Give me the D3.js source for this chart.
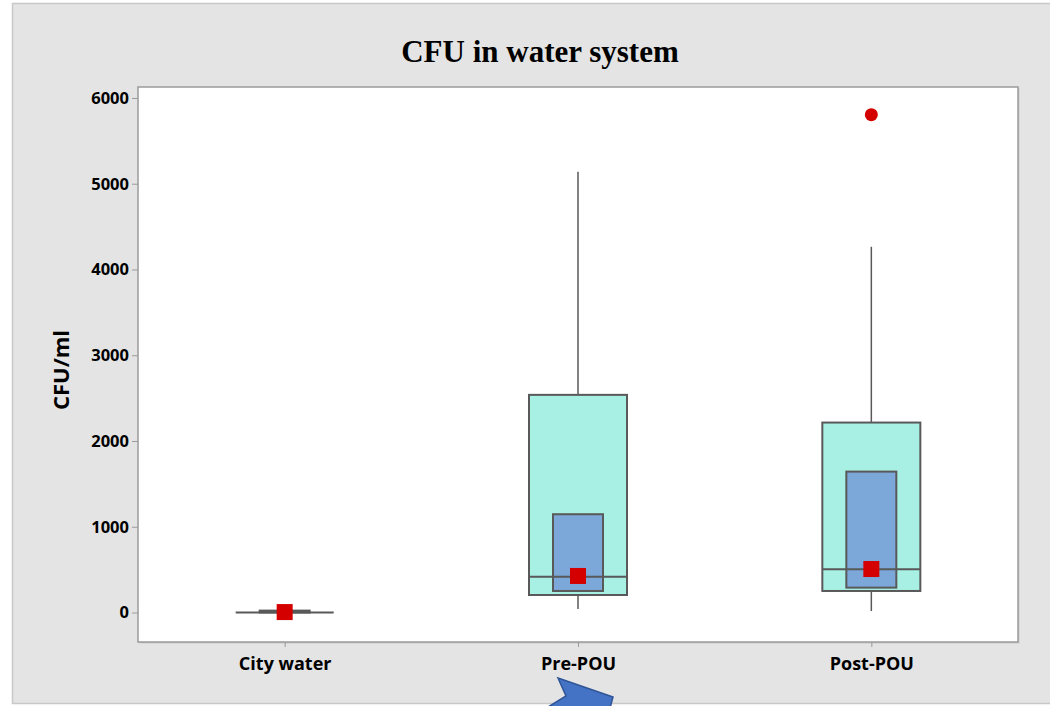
<!DOCTYPE html>
<html>
<head>
<meta charset="utf-8">
<script src="https://cdn.jsdelivr.net/npm/d3@7"></script>
<style>
  html, body { margin: 0; padding: 0; background: #ffffff; }
  svg { display: block; }
</style>
</head>
<body>
<svg id="chart" width="1050" height="706"></svg>
<script>
// ---- Data ----
const categories = ["City water", "Pre-POU", "Post-POU"];
const q1Values = [0, 204, 251];
const medianValues = [0, 418, 504];
const q3Values = [0, 2538, 2215];
const whiskerLow = [0, 40, 17];
const whiskerHigh = [0, 5140, 4265];
const ciLow = [0, 251, 290];
const ciHigh = [22, 1146, 1643];
const meanValues = [5, 426, 507];
const outlierValues = [[], [], [5805]];
const yTicks = [0, 1000, 2000, 3000, 4000, 5000, 6000];
const titleText = "CFU in water system";
const yLabel = "CFU/ml";

// ---- Layout ----
const W = 1050, H = 706;
const plot = { left: 138, right: 1018, top: 87, bottom: 642 };
const svg = d3.select("#chart");

// outer gray panel
svg.append("rect")
  .attr("x", 12.5).attr("y", 3.5)
  .attr("width", W).attr("height", 700)
  .attr("fill", "#e4e4e4")
  .attr("stroke", "#c8c8c8").attr("stroke-width", 1.5);

// plot area
svg.append("rect")
  .attr("x", plot.left + 1.5).attr("y", plot.top + 1.5)
  .attr("width", plot.right - plot.left).attr("height", plot.bottom - plot.top)
  .attr("fill", "#c9c9c9");
svg.append("rect")
  .attr("x", plot.left).attr("y", plot.top)
  .attr("width", plot.right - plot.left).attr("height", plot.bottom - plot.top)
  .attr("fill", "#ffffff")
  .attr("stroke", "#9a9a9a").attr("stroke-width", 1.5);

const x = d3.scaleLinear().domain([0.5, 3.5]).range([plot.left, plot.right]);
const y = d3.scaleLinear().domain([-344, 6128]).range([plot.bottom, plot.top]);

// title
svg.append("text")
  .attr("x", 540).attr("y", 62)
  .attr("text-anchor", "middle")
  .attr("font-family", "'Liberation Serif', 'Times New Roman', serif")
  .attr("font-weight", "bold")
  .attr("font-size", 31)
  .attr("fill", "#000")
  .text(titleText);

// y axis
const yAxis = d3.axisLeft(y).tickValues(yTicks).tickSize(6).tickPadding(3).tickFormat(d3.format("d"));
const gy = svg.append("g").attr("transform", `translate(${plot.left},0)`).call(yAxis);
gy.select(".domain").remove();
gy.selectAll(".tick line").attr("stroke", "#9a9a9a").attr("stroke-width", 1);
gy.selectAll(".tick text")
  .attr("font-family", "'Open Sans', 'Noto Sans', sans-serif")
  .attr("font-weight", "bold").attr("font-size", 16.5).attr("fill", "#000");

// y label
svg.append("text")
  .attr("transform", `translate(69,370) rotate(-90)`)
  .attr("text-anchor", "middle")
  .attr("font-family", "'Open Sans', 'Noto Sans', sans-serif")
  .attr("font-weight", "bold").attr("font-size", 22).attr("fill", "#000")
  .text(yLabel);

// x axis
const xAxis = d3.axisBottom(x).tickValues([1, 2, 3]).tickSize(5).tickPadding(10)
  .tickFormat((d) => categories[d - 1]);
const gx = svg.append("g").attr("transform", `translate(0,${plot.bottom})`).call(xAxis);
gx.select(".domain").remove();
gx.selectAll(".tick line").attr("stroke", "#9a9a9a");
gx.selectAll(".tick text")
  .attr("font-family", "'Open Sans', 'Noto Sans', sans-serif")
  .attr("font-weight", "bold").attr("font-size", 18).attr("fill", "#000");

// boxes
const outerHalf = 49, innerHalf = 25, meanSize = 16;
const strokeC = "#595959";
const g = svg.append("g");
categories.forEach((c, i) => {
  const cx = x(i + 1);
  // whiskers
  g.append("line").attr("x1", cx).attr("x2", cx)
    .attr("y1", y(q3Values[i])).attr("y2", y(whiskerHigh[i]))
    .attr("stroke", strokeC).attr("stroke-width", 1.5);
  g.append("line").attr("x1", cx).attr("x2", cx)
    .attr("y1", y(q1Values[i])).attr("y2", y(whiskerLow[i]))
    .attr("stroke", strokeC).attr("stroke-width", 1.5);
  // IQR box
  g.append("rect")
    .attr("x", cx - outerHalf).attr("y", y(q3Values[i]))
    .attr("width", outerHalf * 2).attr("height", Math.max(0, y(q1Values[i]) - y(q3Values[i])))
    .attr("fill", "#a8efe4").attr("stroke", strokeC).attr("stroke-width", 2);
  // median CI box
  g.append("rect")
    .attr("x", cx - innerHalf).attr("y", y(ciHigh[i]))
    .attr("width", innerHalf * 2).attr("height", Math.max(0, y(ciLow[i]) - y(ciHigh[i])))
    .attr("fill", "#7ba7d9").attr("stroke", strokeC).attr("stroke-width", 2);
  // median line
  g.append("line")
    .attr("x1", cx - outerHalf).attr("x2", cx + outerHalf)
    .attr("y1", y(medianValues[i])).attr("y2", y(medianValues[i]))
    .attr("stroke", strokeC).attr("stroke-width", 2);
  // mean
  g.append("rect")
    .attr("x", cx - meanSize / 2).attr("y", y(meanValues[i]) - meanSize / 2)
    .attr("width", meanSize).attr("height", meanSize)
    .attr("fill", "#d40000");
  // outliers
  outlierValues[i].forEach((v) => {
    g.append("circle").attr("cx", cx).attr("cy", y(v)).attr("r", 6.5).attr("fill", "#d40000");
  });
});

// decorative block arrow at bottom (cropped)
svg.append("polygon")
  .attr("points", "558,678 613,697 609,712 548,712 548,707 566,696")
  .attr("fill", "#4472c4").attr("stroke", "#2f5597").attr("stroke-width", 1.5);
</script>
</body>
</html>
